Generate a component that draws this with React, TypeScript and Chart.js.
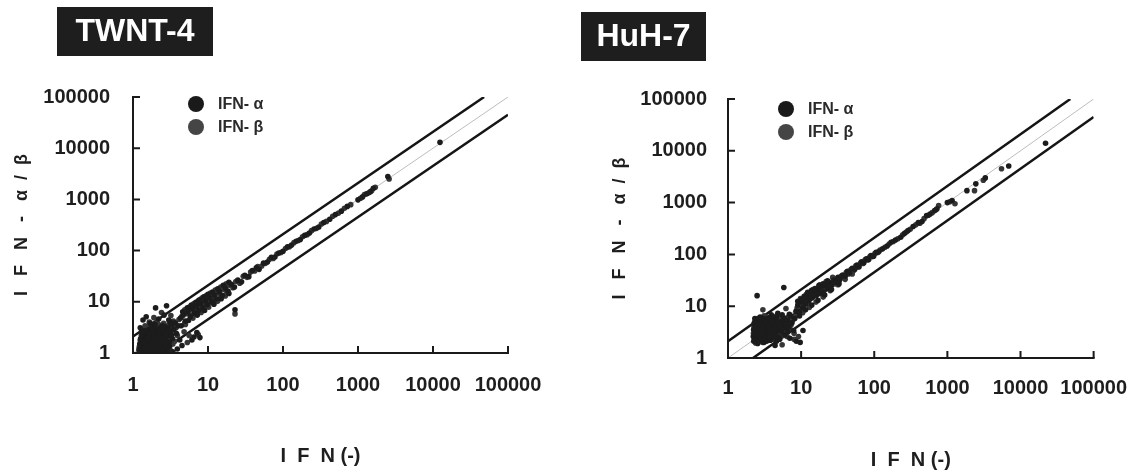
import React, { useEffect, useRef } from "react";
import { Chart, registerables } from "chart.js";
Chart.register(...registerables);

type P = [number, number];

const xTickValues = [1, 10, 100, 1000, 10000, 100000];
const yTickValues = [1, 10, 100, 1000, 10000, 100000];
const seriesNames = ["IFN- α", "IFN- β"];
const panelTitles = ["TWNT-4", "HuH-7"];
const xAxisTitle = "I  F  N (-)";
const yAxisTitle = "I   F   N   -   α  /  β";

// TWNT-4, IFN-α
const twntAlpha: P[] = [
  [1.22,1.04],[1.28,1.35],[1.31,1.7],[1.36,1.12],[1.4,2.05],[1.43,1.48],[1.47,1.02],[1.5,1.85],[1.53,2.4],[1.57,1.25],
  [1.6,1.6],[1.64,2.9],[1.67,1.08],[1.7,2.15],[1.74,1.4],[1.78,1.78],[1.82,2.6],[1.86,1.18],[1.9,3.2],[1.94,1.55],
  [1.98,2.0],[2.02,1.03],[2.07,2.45],[2.12,1.35],[2.17,1.9],[2.22,2.9],[2.28,1.15],[2.34,1.65],[2.4,2.3],[2.46,3.4],
  [2.52,1.45],[2.58,2.0],[2.65,1.1],[2.72,2.7],[2.8,1.7],[2.88,3.1],[2.96,2.2],[3.05,1.35],[3.15,2.6],[3.25,3.6],
  [3.35,1.9],[3.5,2.9],[3.65,3.9],[3.8,2.4],[4.0,3.4],
  [1.2,1.15],[1.23,1.5],[1.26,1.9],[1.29,1.08],[1.33,2.3],[1.37,1.6],[1.41,1.25],[1.44,2.7],[1.48,1.4],[1.52,1.05],
  [1.56,2.0],[1.61,1.3],[1.65,2.4],[1.69,1.55],[1.73,1.02],[1.77,3.0],[1.81,1.25],[1.85,1.7],[1.89,2.3],[1.93,1.1],
  [1.97,3.6],[2.01,1.45],[2.06,1.8],[2.11,2.7],[2.16,1.1],[2.21,2.1],[2.27,1.5],[2.33,3.1],[2.39,1.05],[2.45,1.9],
  [2.51,2.6],[2.57,1.25],[2.64,3.3],[2.71,1.5],[2.79,2.1],[2.87,1.15],[2.95,2.9],[3.04,1.6],[3.14,4.0],[3.24,2.2],
  [1.36,4.4],[1.5,5.1],[1.7,3.8],[2.0,7.6],[2.8,8.4],[2.2,4.6],[2.6,5.5],[3.0,4.4],[1.3,2.6],[1.25,3.1],
  [3.9,1.2],[4.5,1.4],[6.1,1.8],[6.5,2.06],[7.1,2.5],[7.8,2.0],[3.4,1.05],[4.2,1.8],
  [22.9,7.0],
  [4.3,4.8],[4.7,5.6],[5.0,4.2],[5.4,6.3],[5.8,5.1],[6.2,7.4],[6.6,6.0],[7.0,8.3],[7.5,6.8],[8.0,9.2],
  [8.6,7.6],[9.2,10.5],[9.8,8.8],[10.5,12.0],[11.3,10.1],[12.2,13.6],[13.0,11.5],[14.2,15.8],[15.5,13.4],[17.0,18.5],
  [18.5,16.2],[20.5,22.0],[22.5,19.5],[25.0,26.5],[28.0,24.5],[31,33],[35,31],[39,41],
  [4.6,6.4],[5.3,7.6],[6.0,8.6],[6.9,9.8],[7.7,11],[8.8,12.5],[10,14],[11.5,15.5],[13.5,18],[16,21],[19,24],
  [4.4,3.4],[5.5,4.3],[7.2,5.5],[9,6.8],[12,9],[15,11.5],[19,14.5],
  [44,46],[48,43],[55,57],[62,60],[70,74],[78,75],[88,90],[100,97],[115,118],[130,128],
  [150,152],[170,165],[195,198],[225,220],[260,265],[300,290],[350,355],[420,410],[500,505],[600,590],[720,730],
  [1000,980],[1150,1120],[1300,1280],[1450,1400],[1600,1650],[2500,2800],[12400,13000]
];

// TWNT-4, IFN-β
const twntBeta: P[] = [
  [1.24,1.2],[1.27,1.6],[1.33,1.02],[1.38,1.9],[1.42,1.3],[1.46,2.3],[1.51,1.1],[1.55,1.7],[1.59,2.7],[1.62,1.4],
  [1.66,2.0],[1.72,1.05],[1.76,2.5],[1.8,1.6],[1.84,3.5],[1.88,1.3],[1.92,2.2],[1.96,1.75],[2.0,2.9],[2.05,1.2],
  [2.1,2.0],[2.15,1.55],[2.2,3.6],[2.25,1.05],[2.31,2.2],[2.37,1.4],[2.43,2.8],[2.5,1.75],[2.56,3.8],[2.62,1.3],
  [2.7,2.3],[2.77,1.55],[2.85,3.3],[2.93,1.05],[3.0,1.9],[3.1,3.0],[3.2,1.5],[3.3,2.3],[3.45,4.2],[3.6,1.7],
  [3.75,3.1],[3.9,2.2],[4.1,4.5],
  [1.21,1.3],[1.25,1.75],[1.29,2.2],[1.32,1.4],[1.36,1.03],[1.39,2.5],[1.43,1.7],[1.47,2.1],[1.5,1.2],[1.54,3.2],
  [1.58,1.5],[1.63,1.9],[1.68,2.8],[1.71,1.2],[1.75,1.65],[1.79,2.2],[1.83,1.02],[1.87,2.7],[1.91,1.45],[1.95,2.4],
  [1.99,1.2],[2.04,3.2],[2.09,1.65],[2.14,2.4],[2.19,1.3],[2.24,1.8],[2.3,2.6],[2.36,1.2],[2.42,2.0],[2.48,1.4],
  [2.55,3.0],[2.61,1.9],[2.68,1.2],[2.75,2.5],[2.83,1.4],[2.91,2.0],[3.0,3.6],[3.1,1.2],[3.4,1.5],[3.55,3.4],
  [1.45,3.4],[1.65,4.0],[1.9,4.9],[2.4,6.2],[3.2,5.4],[1.55,3.0],[2.1,3.9],
  [5.3,1.6],[5.6,2.2],[4.8,2.6],[7.4,2.3],
  [22.9,5.8],
  [4.5,5.2],[4.9,3.9],[5.2,5.9],[5.6,7.0],[6.0,5.5],[6.4,6.9],[6.8,8.0],[7.3,7.2],[7.8,8.6],[8.3,7.3],
  [8.9,9.8],[9.5,9.0],[10.1,11.2],[10.9,9.6],[11.7,12.6],[12.6,11.0],[13.6,14.8],[14.8,13.0],[16.2,17.5],[17.8,15.5],
  [19.5,21.0],[21.5,18.8],[23.5,25.0],[26.5,23.0],[29.5,31.5],[33,30],[37,38],[42,40],
  [4.9,7.0],[5.7,8.0],[6.5,9.2],[7.4,10.5],[8.3,11.8],[9.5,13.2],[10.8,14.8],[12.5,17],[14.8,19.5],[17.5,22.5],
  [5.0,3.6],[6.3,4.8],[8.1,6.2],[10.2,7.8],[13.4,10.2],[17,13],
  [46,49],[52,50],[58,56],[66,68],[74,70],[83,86],[94,92],[108,110],[122,119],[140,143],
  [160,157],[182,186],[210,205],[240,245],[280,272],[325,330],[380,372],[460,470],[550,540],[660,670],[800,790],
  [1080,1050],[1220,1250],[1380,1330],[1520,1480],[1700,1720],[2600,2500]
];

// HuH-7, IFN-α
const huhAlpha: P[] = [
  [2.25,2.1],[2.3,3.0],[2.35,4.2],[2.4,2.5],[2.45,5.3],[2.5,3.5],[2.55,1.9],[2.6,4.6],[2.65,2.8],[2.7,3.9],
  [2.75,6.2],[2.8,2.2],[2.85,3.3],[2.9,4.9],[2.95,2.6],[3.0,3.8],[3.05,5.8],[3.1,2.0],[3.15,3.1],[3.2,4.4],
  [3.3,2.4],[3.4,3.6],[3.5,5.2],[3.6,2.9],[3.7,4.1],[3.8,2.2],[3.9,6.8],[4.0,3.3],[4.1,4.7],[4.2,2.6],
  [4.3,3.9],[4.4,5.6],[4.5,3.0],[4.6,2.1],[4.7,4.4],[4.8,7.3],[4.9,3.5],[5.0,2.5],[5.2,5.0],[5.4,3.2],
  [5.6,4.3],[5.8,6.0],[6.0,2.8],[6.2,3.8],[6.5,5.3],[6.8,4.0],[7.0,2.4],[7.2,6.5],[7.5,4.8],[7.9,3.4],[8.2,5.8],
  [2.22,2.6],[2.24,3.5],[2.27,4.6],[2.3,2.2],[2.33,5.8],[2.37,3.2],[2.41,4.0],[2.46,2.8],[2.51,4.4],[2.56,3.1],
  [2.61,5.6],[2.66,2.4],[2.71,3.5],[2.76,4.5],[2.81,2.9],[2.87,5.5],[2.93,3.6],[2.99,2.3],[3.06,4.2],[3.13,2.8],
  [3.21,5.1],[3.28,3.3],[3.37,2.1],[3.47,4.0],[3.57,6.0],[3.68,3.2],[3.79,4.8],[3.91,2.6],[4.03,5.4],[4.16,3.1],
  [4.3,4.4],[4.44,2.5],[4.6,6.1],[4.76,3.7],[4.93,4.9],[5.1,2.3],[5.3,3.6],[5.5,6.8],[5.75,4.7],[6.0,5.6],
  [6.3,4.5],[6.6,3.2],[6.9,7.0],
  [2.5,16],[5.8,23],[8.6,2.1],[9.7,2.0],[10.6,3.4],[4.4,1.75],
  [8.5,8.0],[9.0,10.5],[9.5,7.8],[10,12],[10.5,9.5],[11,14],[11.6,11],[12.2,16],[12.8,13],[13.5,18],
  [14.2,14.5],[15,19],[16,16],[17,21],[18,17.5],[19,24],[20,19],[21.5,25],[23,22],[24.5,28],
  [26,25],[28,32],[30,29],[32,36],[34,33],[37,40],[40,38],[43,47],[46,44],[50,54],
  [54,51],[58,62],[62,58],[67,72],[72,69],[78,82],[84,80],[90,95],[98,92],[106,110],[115,112],
  [9,12.5],[10,13.5],[11,15.5],[12.3,18.5],[13.8,20],[15.5,22],[17.5,25],[20,27],[23,31],
  [9.5,6.5],[11.5,8.5],[14,10.5],[17,13],[21,16.5],[26,21],[33,27],
  [130,128],[150,145],[170,172],[195,190],[230,215],[260,255],[290,290],[340,345],[400,410],[450,430],
  [520,560],[580,600],[670,700],[720,760],[1000,1000],[1160,1100],[1850,1700],[2450,2300],[3300,3000],[6900,5100],[22000,14000]
];

// HuH-7, IFN-β
const huhBeta: P[] = [
  [2.28,2.6],[2.32,3.6],[2.38,1.95],[2.42,4.8],[2.48,3.1],[2.52,2.3],[2.58,4.0],[2.62,3.3],[2.68,2.1],[2.72,5.0],
  [2.78,3.6],[2.82,2.7],[2.88,4.3],[2.92,3.0],[2.98,2.0],[3.02,4.6],[3.08,3.4],[3.12,6.5],[3.18,2.5],[3.25,3.9],
  [3.35,2.9],[3.45,4.7],[3.55,2.3],[3.65,3.4],[3.75,5.7],[3.85,3.0],[3.95,4.2],[4.05,2.3],[4.15,3.6],[4.25,6.3],
  [4.35,2.9],[4.45,4.1],[4.55,3.4],[4.65,5.1],[4.75,2.7],[4.85,3.9],[4.95,6.4],[5.1,3.0],[5.3,4.1],[5.5,2.7],
  [5.7,5.1],[5.9,3.5],[6.1,4.6],[6.4,2.6],[6.7,6.2],[6.9,3.6],[7.3,4.4],[7.7,5.5],[8.0,3.0],[8.4,6.8],
  [2.23,3.0],[2.26,4.0],[2.29,2.4],[2.32,5.0],[2.36,2.9],[2.4,3.8],[2.44,2.1],[2.49,4.2],[2.54,5.8],[2.59,2.6],
  [2.64,3.7],[2.69,4.8],[2.74,2.5],[2.79,4.1],[2.84,3.1],[2.9,2.3],[2.96,5.2],[3.03,2.7],[3.1,3.7],[3.17,5.4],
  [3.24,2.2],[3.32,4.4],[3.41,3.2],[3.51,5.9],[3.62,2.7],[3.73,4.5],[3.84,3.6],[3.97,5.0],[4.1,2.8],[4.24,3.8],
  [4.38,5.7],[4.53,3.3],[4.68,2.4],[4.84,4.6],[5.0,3.5],[5.2,5.6],[5.4,2.9],[5.65,3.9],[5.9,4.9],[6.3,3.4],
  [6.6,5.0],[7.0,4.0],
  [3.0,8.5],[6.2,9],[9.2,2.6],[8.0,2.3],[5.5,1.8],
  [8.8,9.2],[9.3,11.5],[9.8,8.9],[10.3,12.5],[10.8,10.6],[11.3,13.0],[11.9,15.5],[12.5,12],[13.2,14],[13.9,17],
  [14.6,15.5],[15.5,18],[16.5,17],[17.5,20],[18.5,18.5],[19.5,22],[21,20.5],[22.5,26],[24,23],[25.5,27],
  [27,30],[29,27],[31,34],[33,31],[35.5,38],[38.5,37],[41.5,45],[44.5,42],[48,51],[52,49],
  [56,60],[60,57],[65,68],[70,67],[75,79],[81,78],[87,90],[94,90],[102,104],[110,108],[120,121],
  [9.8,14],[11.8,17],[14.5,21],[18,26],[22,30],[27,36],
  [10.5,7.5],[13,9.5],[16,12],[20,15],[25,20],[32,26],[40,33],[50,42],
  [140,137],[160,158],[182,178],[210,200],[245,240],[275,270],[310,305],[370,372],[420,400],[480,490],
  [550,570],[620,640],[700,730],[760,880],[1080,1040],[1270,950],[2350,1700],[3100,2700],[5500,4500]
];

const upperLine: P[] = [[1, 2.1], [48000, 100000]];
const identityLine: P[] = [[1, 1], [100000, 100000]];
const lowerLine: P[] = [[2.2, 1], [100000, 45000]];

const FONT = '"Liberation Sans", Arial, sans-serif';

type PanelSpec = {
  left: number;
  width: number;
  pad: { left: number; top: number; right: number; bottom: number };
  yWidth: number;
  xHeight: number;
  yTickPad: number;
  xTickPad: number;
  yTitlePad: number;
  legendDx: number;
  legendDy: number;
  box: { x: number; y: number; w: number; h: number };
  title: string;
  alpha: P[];
  beta: P[];
};

const panels: PanelSpec[] = [
  {
    left: 0, width: 575,
    pad: { left: 0, top: 97, right: 67, bottom: 6 },
    yWidth: 133, xHeight: 115, yTickPad: 23, xTickPad: 20, yTitlePad: 11,
    legendDx: 63, legendDy: 7,
    box: { x: 57, y: 7, w: 156, h: 49 },
    title: panelTitles[0], alpha: twntAlpha, beta: twntBeta,
  },
  {
    left: 575, width: 570,
    pad: { left: 0, top: 99, right: 42, bottom: 2 },
    yWidth: 153, xHeight: 114, yTickPad: 21, xTickPad: 18, yTitlePad: 34,
    legendDx: 58, legendDy: 10,
    box: { x: 6, y: 12, w: 125, h: 49 },
    title: panelTitles[1], alpha: huhAlpha, beta: huhBeta,
  },
];

const toXY = (arr: P[]) => arr.map(([x, y]) => ({ x, y }));

const framePlugin = {
  id: "frame",
  afterDatasetsDraw(chart: any) {
    const { ctx, chartArea: ca, scales } = chart;
    const xs = scales.x, ys = scales.y;
    ctx.save();
    ctx.strokeStyle = "#1a1a1a";
    ctx.lineWidth = 2;
    ctx.lineCap = "square";
    ctx.beginPath();
    ctx.moveTo(ca.left, ys.getPixelForValue(yTickValues[yTickValues.length - 1]));
    ctx.lineTo(ca.left, ca.bottom);
    ctx.lineTo(xs.getPixelForValue(xTickValues[xTickValues.length - 1]), ca.bottom);
    ctx.stroke();
    ctx.lineCap = "butt";
    ctx.beginPath();
    yTickValues.slice(1).forEach((v) => {
      const py = ys.getPixelForValue(v);
      ctx.moveTo(ca.left, py);
      ctx.lineTo(ca.left + 7, py);
    });
    xTickValues.slice(1).forEach((v) => {
      const px = xs.getPixelForValue(v);
      ctx.moveTo(px, ca.bottom);
      ctx.lineTo(px, ca.bottom - 7);
    });
    ctx.stroke();
    ctx.restore();
  },
  afterDraw(chart: any, _args: any, o: any) {
    const { ctx, chartArea: ca } = chart;
    ctx.save();
    const ds = chart.data.datasets.slice(0, 2);
    ds.forEach((d: any, i: number) => {
      const cx = ca.left + o.legendDx;
      const cy = ca.top + o.legendDy + i * 23;
      ctx.fillStyle = d.legendColor;
      ctx.beginPath();
      ctx.arc(cx, cy, 8, 0, Math.PI * 2);
      ctx.fill();
      ctx.fillStyle = "#2a2a2a";
      ctx.font = `bold 16px ${FONT}`;
      ctx.textBaseline = "middle";
      ctx.textAlign = "left";
      ctx.fillText(d.label, cx + 22, cy + 1);
    });
    const b = o.box;
    ctx.fillStyle = "#1e1e1e";
    ctx.fillRect(b.x, b.y, b.w, b.h);
    ctx.fillStyle = "#ffffff";
    ctx.font = `bold 32px ${FONT}`;
    ctx.textAlign = "center";
    ctx.textBaseline = "middle";
    ctx.fillText(o.title, b.x + b.w / 2, b.y + b.h / 2 + 1);
    ctx.restore();
  },
};

function makeConfig(p: PanelSpec): any {
  const tickFont = { family: FONT, size: 20, weight: "bold" as const };
  return {
    type: "scatter",
    data: {
      datasets: [
        {
          label: seriesNames[0],
          data: toXY(p.alpha),
          backgroundColor: "#1c1c1c",
          borderColor: "#1c1c1c",
          legendColor: "#1a1a1a",
          pointRadius: 2.8,
          borderWidth: 0,
        },
        {
          label: seriesNames[1],
          data: toXY(p.beta),
          backgroundColor: "#363636",
          borderColor: "#363636",
          legendColor: "#454545",
          pointRadius: 2.8,
          borderWidth: 0,
        },
        {
          label: "upper",
          data: toXY(upperLine),
          showLine: true,
          pointRadius: 0,
          borderColor: "#151515",
          borderWidth: 2.5,
        },
        {
          label: "lower",
          data: toXY(lowerLine),
          showLine: true,
          pointRadius: 0,
          borderColor: "#151515",
          borderWidth: 2.5,
        },
        {
          label: "identity",
          data: toXY(identityLine),
          showLine: true,
          pointRadius: 0,
          borderColor: "#bdbdbd",
          borderWidth: 1,
        },
      ],
    },
    options: {
      animation: false,
      responsive: false,
      events: [],
      layout: { padding: p.pad },
      plugins: {
        legend: { display: false },
        tooltip: { enabled: false },
        frame: {
          legendDx: p.legendDx,
          legendDy: p.legendDy,
          box: p.box,
          title: p.title,
        },
      },
      scales: {
        x: {
          type: "logarithmic",
          min: xTickValues[0],
          max: xTickValues[xTickValues.length - 1],
          grid: { display: false, drawTicks: false },
          border: { display: false },
          afterBuildTicks: (s: any) => {
            s.ticks = xTickValues.map((v) => ({ value: v }));
          },
          afterFit: (s: any) => {
            s.height = p.xHeight;
          },
          ticks: {
            callback: (v: any) => String(v),
            font: tickFont,
            color: "#1e1e1e",
            padding: p.xTickPad,
            maxRotation: 0,
            autoSkip: false,
          },
          title: {
            display: true,
            text: xAxisTitle,
            font: { family: FONT, size: 20, weight: "bold" },
            color: "#1e1e1e",
            padding: { top: 0, bottom: 0 },
          },
        },
        y: {
          type: "logarithmic",
          min: yTickValues[0],
          max: yTickValues[yTickValues.length - 1],
          grid: { display: false, drawTicks: false },
          border: { display: false },
          afterBuildTicks: (s: any) => {
            s.ticks = yTickValues.map((v) => ({ value: v }));
          },
          afterFit: (s: any) => {
            s.width = p.yWidth;
          },
          ticks: {
            callback: (v: any) => String(v),
            font: tickFont,
            color: "#1e1e1e",
            padding: p.yTickPad,
            autoSkip: false,
          },
          title: {
            display: true,
            text: yAxisTitle,
            font: { family: FONT, size: 18, weight: "bold" },
            color: "#1e1e1e",
            padding: { top: p.yTitlePad, bottom: 0 },
          },
        },
      },
    },
    plugins: [framePlugin],
  };
}

function Panel({ spec }: { spec: PanelSpec }) {
  const ref = useRef<HTMLCanvasElement | null>(null);
  useEffect(() => {
    if (!ref.current) return;
    const chart = new Chart(ref.current, makeConfig(spec));
    return () => chart.destroy();
  }, [spec]);
  return (
    <canvas
      ref={ref}
      width={spec.width}
      height={474}
      style={{
        position: "absolute",
        left: spec.left,
        top: 0,
        width: spec.width,
        height: 474,
      }}
    />
  );
}

export default function App() {
  return (
    <div
      style={{
        position: "fixed",
        left: 0,
        top: 0,
        width: 1145,
        height: 474,
        background: "#ffffff",
        overflow: "hidden",
      }}
    >
      {panels.map((p) => (
        <Panel key={p.title} spec={p} />
      ))}
    </div>
  );
}
